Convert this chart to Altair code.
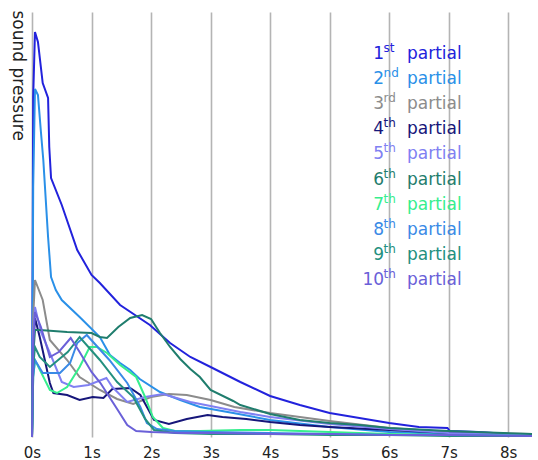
import altair as alt
import pandas as pd

# ---- legend / series identity ----
ordinals = ["1", "2", "3", "4", "5", "6", "7", "8", "9", "10"]
suffixes = ["st", "nd", "rd", "th", "th", "th", "th", "th", "th", "th"]
labels = [o + s + " partial" for o, s in zip(ordinals, suffixes)]
colors = ["#2222dc", "#2a90e8", "#8c8c8c", "#16167a", "#8080f2",
          "#1f7d6d", "#36ee8e", "#3a8ae6", "#23907f", "#6a60d8"]

# ---- time (s) / sound pressure (arbitrary units) ----
t1 = [0, 0.02, 0.05, 0.1, 0.18, 0.27, 0.29, 0.32, 0.5, 0.76, 1.0, 1.14, 1.48, 1.98, 2.32, 2.66, 3.0, 3.5, 4.0, 4.5, 5.0, 5.5, 6.0, 6.5, 6.98, 7.02, 7.5, 8.0, 8.4]
v1 = [0, 340, 405, 395, 354, 339, 290, 259, 232, 187, 162, 154, 132, 112, 94, 80, 70, 55, 41, 32, 24, 19, 14, 10, 9, 6, 5, 3, 3]

t2 = [0, 0.02, 0.05, 0.1, 0.15, 0.19, 0.27, 0.32, 0.4, 0.5, 0.8, 1.14, 1.31, 1.48, 1.65, 1.81, 2.15, 2.49, 2.82, 3.38, 4.0, 5.0, 6.0, 7.0, 8.4]
v2 = [0, 250, 348, 342, 305, 277, 200, 160, 147, 137, 120, 100, 82, 74, 67, 58, 45, 37, 30, 24, 17, 10, 5, 3, 2]

t3 = [0, 0.02, 0.05, 0.18, 0.3, 0.59, 0.8, 1.14, 1.43, 1.7, 2.0, 2.3, 2.6, 3.0, 3.4, 4.0, 5.0, 6.0, 7.0, 8.4]
v3 = [0, 120, 157, 137, 97, 77, 60, 47, 38, 33, 40, 43, 42, 37, 30, 24, 16, 9, 5, 3]

t4 = [0, 0.02, 0.05, 0.13, 0.3, 0.36, 0.59, 0.8, 1.02, 1.2, 1.35, 1.65, 1.82, 1.95, 2.05, 2.3, 2.6, 2.95, 3.2, 3.6, 4.0, 4.5, 5.0, 6.0, 7.0, 8.4]
v4 = [0, 90, 119, 100, 54, 44, 42, 37, 40, 39, 48, 49, 42, 28, 17, 13, 18, 22, 20, 18, 15, 12, 10, 7, 4, 2]

t5 = [0, 0.02, 0.05, 0.15, 0.35, 0.5, 0.7, 0.95, 1.25, 1.35, 1.6, 1.9, 2.2, 2.66, 3.0, 3.5, 4.0, 5.0, 6.0, 7.0, 8.4]
v5 = [0, 100, 130, 105, 77, 55, 50, 52, 59, 50, 35, 40, 43, 35, 31, 25, 20, 13, 8, 4, 2]

t6 = [0, 0.02, 0.05, 0.13, 0.59, 1.0, 1.14, 1.26, 1.45, 1.65, 1.85, 2.0, 2.15, 2.32, 2.49, 2.66, 2.82, 3.0, 3.38, 3.5, 4.0, 4.5, 5.0, 5.5, 6.0, 7.0, 8.4]
v6 = [0, 80, 107, 107, 105, 104, 100, 99, 110, 119, 122, 118, 104, 90, 78, 68, 60, 47, 36, 32, 23, 17, 14, 12, 9, 6, 3]

t7 = [0, 0.02, 0.05, 0.3, 0.42, 0.59, 0.8, 0.97, 1.09, 1.26, 1.48, 1.75, 1.9, 2.03, 2.2, 2.4, 2.82, 3.5, 4.0, 5.0, 6.0, 7.0, 8.4]
v7 = [0, 60, 77, 47, 44, 50, 70, 90, 90, 84, 72, 60, 40, 20, 9, 6, 6, 7, 7, 5, 3, 2, 1]

t8 = [0, 0.02, 0.05, 0.18, 0.47, 0.64, 0.76, 0.92, 1.3, 1.6, 1.82, 1.93, 2.1, 2.4, 3.0, 4.0, 5.0, 6.0, 7.0, 8.4]
v8 = [0, 60, 77, 64, 64, 74, 94, 102, 77, 54, 30, 14, 8, 6, 5, 4, 3, 2, 2, 1]

t9 = [0, 0.02, 0.05, 0.13, 0.3, 0.6, 0.8, 1.14, 1.43, 1.7, 1.9, 2.05, 2.4, 3.0, 4.0, 5.0, 6.0, 7.0, 8.4]
v9 = [0, 70, 90, 80, 70, 85, 100, 77, 55, 40, 18, 7, 4, 3, 3, 2, 2, 1, 1]

t10 = [0, 0.02, 0.05, 0.15, 0.3, 0.45, 0.65, 0.8, 1.0, 1.15, 1.3, 1.43, 1.6, 1.75, 2.0, 2.5, 3.0, 4.0, 5.0, 6.0, 7.0, 8.4]
v10 = [0, 90, 125, 110, 80, 85, 99, 85, 65, 54, 40, 28, 12, 6, 5, 4, 4, 3, 3, 2, 2, 1]

series = [(t1, v1), (t2, v2), (t3, v3), (t4, v4), (t5, v5),
          (t6, v6), (t7, v7), (t8, v8), (t9, v9), (t10, v10)]

tick_values = [0, 1, 2, 3, 4, 5, 6, 7, 8]

rows = []
for i, (ts, vs) in enumerate(series):
    for t, v in zip(ts, vs):
        rows.append({"partial": labels[i], "t": t, "v": v})
df = pd.DataFrame(rows)

leg = pd.DataFrame({
    "partial": labels,
    "num": ordinals,
    "suf": suffixes,
    "word": ["partial"] * len(labels),
    "row": list(range(len(labels))),
})

x_scale = alt.Scale(domain=[0, 8.4], nice=False, zero=False)
y_scale = alt.Scale(domain=[0, 425], nice=False, zero=False)
c_scale = alt.Scale(domain=labels, range=colors)
FONT = "DejaVu Sans"

x_axis = alt.Axis(
    values=tick_values, labelExpr="datum.value + 's'", grid=True,
    gridColor="#b4b4b4", gridWidth=1.6, domain=False, ticks=False,
    tickSize=0, labelPadding=8, labelFontSize=15, labelColor="#222222",
    labelFont=FONT, labelFlush=False)
y_axis = alt.Axis(
    labels=False, ticks=False, domain=False, grid=False,
    titleAngle=90, titleAlign="left",
    titleBaseline="alphabetic", titleX=-20, titleY=-2, titleFontSize=17,
    titleFont=FONT, titleFontWeight="normal", titleColor="#222222")

X = alt.X("t:Q", scale=x_scale, title=None, axis=x_axis)
Y = alt.Y("v:Q", scale=y_scale, title="sound pressure", axis=y_axis)
C = alt.Color("partial:N", scale=c_scale, legend=None)

lines = alt.Chart(df).mark_line(strokeWidth=2).encode(x=X, y=Y, color=C)

base = alt.Chart(leg).transform_calculate(v="383 - 25.1 * datum.row")

nums = base.transform_calculate(t="5.914").mark_text(
    align="right", baseline="middle", fontSize=17, font=FONT
).encode(x=X, y=Y, text="num:N", color=C)

sups = base.transform_calculate(t="5.89").mark_text(
    align="left", baseline="middle", fontSize=12, dy=-6, dx=1, font=FONT
).encode(x=X, y=Y, text="suf:N", color=C)

words = base.transform_calculate(t="6.30").mark_text(
    align="left", baseline="middle", fontSize=17, font=FONT
).encode(x=X, y=Y, text="word:N", color=C)

chart = alt.layer(lines, nums, sups, words).properties(
    width=500,
    height=425,
    autosize=alt.AutoSizeParams(type="none"),
    padding={"left": 32, "top": 12, "right": 6, "bottom": 23},
    background="white",
).configure_view(stroke=None)

chart.save("out.html", embed_options={"renderer": "svg", "actions": False})
